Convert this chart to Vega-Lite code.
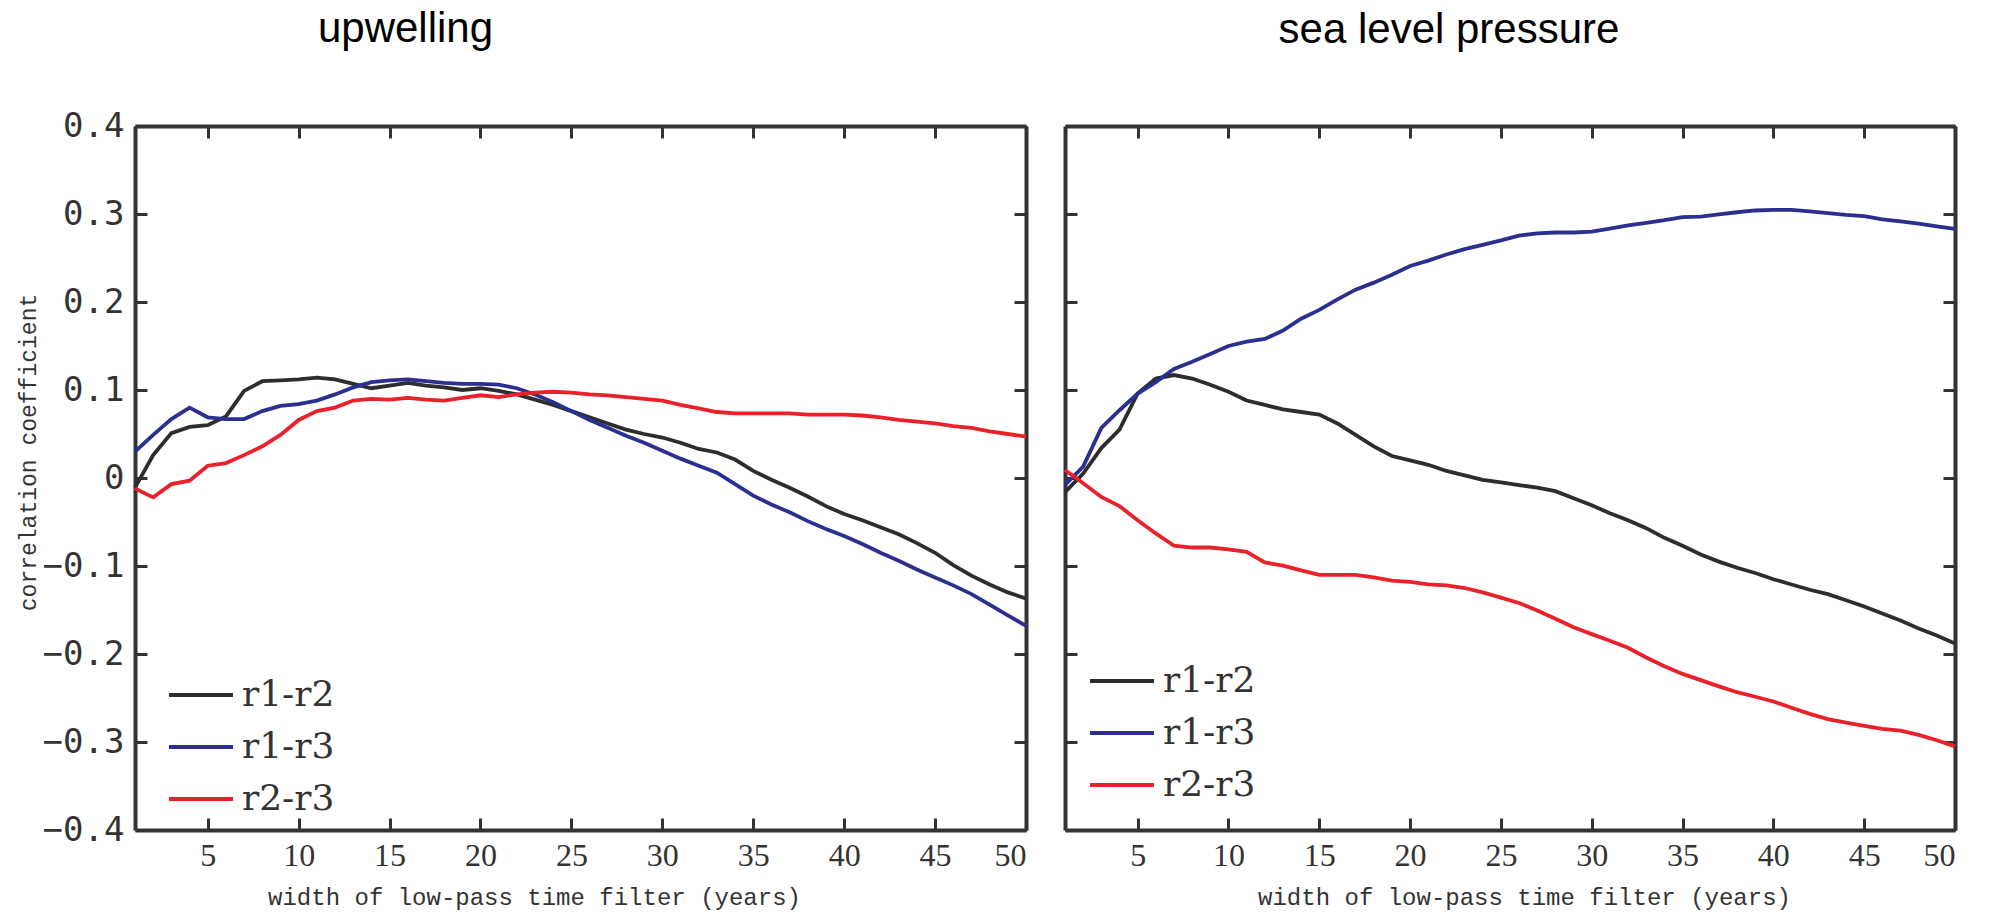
{
  "$schema": "https://vega.github.io/schema/vega-lite/v6.json",
  "background": "white",
  "padding": {"left": 17, "top": 8, "right": 5, "bottom": 5},
  "config": {
    "view": {"stroke": null},
    "font": "Liberation Sans",
    "axis": {
      "grid": false,
      "domainColor": "#333333",
      "domainWidth": 4,
      "tickColor": "#333333",
      "tickWidth": 3,
      "tickSize": -12,
      "labelColor": "#333333",
      "titleColor": "#333333",
      "titleFontWeight": "normal"
    },
    "legend": {
      "orient": "none",
      "title": null,
      "symbolType": "stroke",
      "symbolSize": 4096,
      "symbolStrokeWidth": 4,
      "labelFont": "DejaVu Serif",
      "labelFontSize": 36,
      "labelColor": "#333333",
      "labelOffset": 7,
      "rowPadding": -17,
      "padding": 0
    },
    "title": {
      "font": "Liberation Sans",
      "fontSize": 42,
      "fontWeight": "normal",
      "color": "#000000",
      "anchor": "middle",
      "frame": "group"
    }
  },
  "data": {"values": [
    {"panel":"u","pair":"r1-r2","w":1,"r":-0.011},{"panel":"u","pair":"r1-r2","w":2,"r":0.026},{"panel":"u","pair":"r1-r2","w":3,"r":0.051},{"panel":"u","pair":"r1-r2","w":4,"r":0.058},{"panel":"u","pair":"r1-r2","w":5,"r":0.060},
    {"panel":"u","pair":"r1-r2","w":6,"r":0.070},{"panel":"u","pair":"r1-r2","w":7,"r":0.099},{"panel":"u","pair":"r1-r2","w":8,"r":0.110},{"panel":"u","pair":"r1-r2","w":9,"r":0.111},{"panel":"u","pair":"r1-r2","w":10,"r":0.112},
    {"panel":"u","pair":"r1-r2","w":11,"r":0.114},{"panel":"u","pair":"r1-r2","w":12,"r":0.112},{"panel":"u","pair":"r1-r2","w":13,"r":0.107},{"panel":"u","pair":"r1-r2","w":14,"r":0.102},{"panel":"u","pair":"r1-r2","w":15,"r":0.105},
    {"panel":"u","pair":"r1-r2","w":16,"r":0.108},{"panel":"u","pair":"r1-r2","w":17,"r":0.105},{"panel":"u","pair":"r1-r2","w":18,"r":0.103},{"panel":"u","pair":"r1-r2","w":19,"r":0.100},{"panel":"u","pair":"r1-r2","w":20,"r":0.102},
    {"panel":"u","pair":"r1-r2","w":21,"r":0.099},{"panel":"u","pair":"r1-r2","w":22,"r":0.095},{"panel":"u","pair":"r1-r2","w":23,"r":0.089},{"panel":"u","pair":"r1-r2","w":24,"r":0.083},{"panel":"u","pair":"r1-r2","w":25,"r":0.076},
    {"panel":"u","pair":"r1-r2","w":26,"r":0.069},{"panel":"u","pair":"r1-r2","w":27,"r":0.062},{"panel":"u","pair":"r1-r2","w":28,"r":0.055},{"panel":"u","pair":"r1-r2","w":29,"r":0.050},{"panel":"u","pair":"r1-r2","w":30,"r":0.046},
    {"panel":"u","pair":"r1-r2","w":31,"r":0.040},{"panel":"u","pair":"r1-r2","w":32,"r":0.033},{"panel":"u","pair":"r1-r2","w":33,"r":0.029},{"panel":"u","pair":"r1-r2","w":34,"r":0.021},{"panel":"u","pair":"r1-r2","w":35,"r":0.008},
    {"panel":"u","pair":"r1-r2","w":36,"r":-0.002},{"panel":"u","pair":"r1-r2","w":37,"r":-0.011},{"panel":"u","pair":"r1-r2","w":38,"r":-0.021},{"panel":"u","pair":"r1-r2","w":39,"r":-0.032},{"panel":"u","pair":"r1-r2","w":40,"r":-0.041},
    {"panel":"u","pair":"r1-r2","w":41,"r":-0.048},{"panel":"u","pair":"r1-r2","w":42,"r":-0.056},{"panel":"u","pair":"r1-r2","w":43,"r":-0.064},{"panel":"u","pair":"r1-r2","w":44,"r":-0.074},{"panel":"u","pair":"r1-r2","w":45,"r":-0.085},
    {"panel":"u","pair":"r1-r2","w":46,"r":-0.099},{"panel":"u","pair":"r1-r2","w":47,"r":-0.111},{"panel":"u","pair":"r1-r2","w":48,"r":-0.121},{"panel":"u","pair":"r1-r2","w":49,"r":-0.130},{"panel":"u","pair":"r1-r2","w":50,"r":-0.137},

    {"panel":"u","pair":"r1-r3","w":1,"r":0.030},{"panel":"u","pair":"r1-r3","w":2,"r":0.049},{"panel":"u","pair":"r1-r3","w":3,"r":0.067},{"panel":"u","pair":"r1-r3","w":4,"r":0.080},{"panel":"u","pair":"r1-r3","w":5,"r":0.069},
    {"panel":"u","pair":"r1-r3","w":6,"r":0.067},{"panel":"u","pair":"r1-r3","w":7,"r":0.067},{"panel":"u","pair":"r1-r3","w":8,"r":0.076},{"panel":"u","pair":"r1-r3","w":9,"r":0.082},{"panel":"u","pair":"r1-r3","w":10,"r":0.084},
    {"panel":"u","pair":"r1-r3","w":11,"r":0.088},{"panel":"u","pair":"r1-r3","w":12,"r":0.095},{"panel":"u","pair":"r1-r3","w":13,"r":0.103},{"panel":"u","pair":"r1-r3","w":14,"r":0.109},{"panel":"u","pair":"r1-r3","w":15,"r":0.111},
    {"panel":"u","pair":"r1-r3","w":16,"r":0.112},{"panel":"u","pair":"r1-r3","w":17,"r":0.110},{"panel":"u","pair":"r1-r3","w":18,"r":0.108},{"panel":"u","pair":"r1-r3","w":19,"r":0.107},{"panel":"u","pair":"r1-r3","w":20,"r":0.107},
    {"panel":"u","pair":"r1-r3","w":21,"r":0.106},{"panel":"u","pair":"r1-r3","w":22,"r":0.102},{"panel":"u","pair":"r1-r3","w":23,"r":0.095},{"panel":"u","pair":"r1-r3","w":24,"r":0.086},{"panel":"u","pair":"r1-r3","w":25,"r":0.076},
    {"panel":"u","pair":"r1-r3","w":26,"r":0.066},{"panel":"u","pair":"r1-r3","w":27,"r":0.057},{"panel":"u","pair":"r1-r3","w":28,"r":0.048},{"panel":"u","pair":"r1-r3","w":29,"r":0.040},{"panel":"u","pair":"r1-r3","w":30,"r":0.031},
    {"panel":"u","pair":"r1-r3","w":31,"r":0.022},{"panel":"u","pair":"r1-r3","w":32,"r":0.014},{"panel":"u","pair":"r1-r3","w":33,"r":0.006},{"panel":"u","pair":"r1-r3","w":34,"r":-0.007},{"panel":"u","pair":"r1-r3","w":35,"r":-0.020},
    {"panel":"u","pair":"r1-r3","w":36,"r":-0.030},{"panel":"u","pair":"r1-r3","w":37,"r":-0.039},{"panel":"u","pair":"r1-r3","w":38,"r":-0.049},{"panel":"u","pair":"r1-r3","w":39,"r":-0.058},{"panel":"u","pair":"r1-r3","w":40,"r":-0.066},
    {"panel":"u","pair":"r1-r3","w":41,"r":-0.075},{"panel":"u","pair":"r1-r3","w":42,"r":-0.085},{"panel":"u","pair":"r1-r3","w":43,"r":-0.094},{"panel":"u","pair":"r1-r3","w":44,"r":-0.104},{"panel":"u","pair":"r1-r3","w":45,"r":-0.113},
    {"panel":"u","pair":"r1-r3","w":46,"r":-0.122},{"panel":"u","pair":"r1-r3","w":47,"r":-0.132},{"panel":"u","pair":"r1-r3","w":48,"r":-0.144},{"panel":"u","pair":"r1-r3","w":49,"r":-0.156},{"panel":"u","pair":"r1-r3","w":50,"r":-0.168},

    {"panel":"u","pair":"r2-r3","w":1,"r":-0.012},{"panel":"u","pair":"r2-r3","w":2,"r":-0.022},{"panel":"u","pair":"r2-r3","w":3,"r":-0.007},{"panel":"u","pair":"r2-r3","w":4,"r":-0.003},{"panel":"u","pair":"r2-r3","w":5,"r":0.014},
    {"panel":"u","pair":"r2-r3","w":6,"r":0.017},{"panel":"u","pair":"r2-r3","w":7,"r":0.026},{"panel":"u","pair":"r2-r3","w":8,"r":0.036},{"panel":"u","pair":"r2-r3","w":9,"r":0.049},{"panel":"u","pair":"r2-r3","w":10,"r":0.066},
    {"panel":"u","pair":"r2-r3","w":11,"r":0.076},{"panel":"u","pair":"r2-r3","w":12,"r":0.080},{"panel":"u","pair":"r2-r3","w":13,"r":0.088},{"panel":"u","pair":"r2-r3","w":14,"r":0.090},{"panel":"u","pair":"r2-r3","w":15,"r":0.089},
    {"panel":"u","pair":"r2-r3","w":16,"r":0.091},{"panel":"u","pair":"r2-r3","w":17,"r":0.089},{"panel":"u","pair":"r2-r3","w":18,"r":0.088},{"panel":"u","pair":"r2-r3","w":19,"r":0.091},{"panel":"u","pair":"r2-r3","w":20,"r":0.094},
    {"panel":"u","pair":"r2-r3","w":21,"r":0.092},{"panel":"u","pair":"r2-r3","w":22,"r":0.095},{"panel":"u","pair":"r2-r3","w":23,"r":0.097},{"panel":"u","pair":"r2-r3","w":24,"r":0.098},{"panel":"u","pair":"r2-r3","w":25,"r":0.097},
    {"panel":"u","pair":"r2-r3","w":26,"r":0.095},{"panel":"u","pair":"r2-r3","w":27,"r":0.094},{"panel":"u","pair":"r2-r3","w":28,"r":0.092},{"panel":"u","pair":"r2-r3","w":29,"r":0.090},{"panel":"u","pair":"r2-r3","w":30,"r":0.088},
    {"panel":"u","pair":"r2-r3","w":31,"r":0.083},{"panel":"u","pair":"r2-r3","w":32,"r":0.079},{"panel":"u","pair":"r2-r3","w":33,"r":0.075},{"panel":"u","pair":"r2-r3","w":34,"r":0.0735},{"panel":"u","pair":"r2-r3","w":35,"r":0.0735},
    {"panel":"u","pair":"r2-r3","w":36,"r":0.0735},{"panel":"u","pair":"r2-r3","w":37,"r":0.0735},{"panel":"u","pair":"r2-r3","w":38,"r":0.072},{"panel":"u","pair":"r2-r3","w":39,"r":0.072},{"panel":"u","pair":"r2-r3","w":40,"r":0.072},
    {"panel":"u","pair":"r2-r3","w":41,"r":0.071},{"panel":"u","pair":"r2-r3","w":42,"r":0.069},{"panel":"u","pair":"r2-r3","w":43,"r":0.066},{"panel":"u","pair":"r2-r3","w":44,"r":0.064},{"panel":"u","pair":"r2-r3","w":45,"r":0.062},
    {"panel":"u","pair":"r2-r3","w":46,"r":0.059},{"panel":"u","pair":"r2-r3","w":47,"r":0.057},{"panel":"u","pair":"r2-r3","w":48,"r":0.053},{"panel":"u","pair":"r2-r3","w":49,"r":0.050},{"panel":"u","pair":"r2-r3","w":50,"r":0.047},

    {"panel":"s","pair":"r1-r2","w":1,"r":-0.016},{"panel":"s","pair":"r1-r2","w":2,"r":0.005},{"panel":"s","pair":"r1-r2","w":3,"r":0.034},{"panel":"s","pair":"r1-r2","w":4,"r":0.055},{"panel":"s","pair":"r1-r2","w":5,"r":0.096},
    {"panel":"s","pair":"r1-r2","w":6,"r":0.113},{"panel":"s","pair":"r1-r2","w":7,"r":0.117},{"panel":"s","pair":"r1-r2","w":8,"r":0.113},{"panel":"s","pair":"r1-r2","w":9,"r":0.106},{"panel":"s","pair":"r1-r2","w":10,"r":0.098},
    {"panel":"s","pair":"r1-r2","w":11,"r":0.088},{"panel":"s","pair":"r1-r2","w":12,"r":0.083},{"panel":"s","pair":"r1-r2","w":13,"r":0.078},{"panel":"s","pair":"r1-r2","w":14,"r":0.075},{"panel":"s","pair":"r1-r2","w":15,"r":0.072},
    {"panel":"s","pair":"r1-r2","w":16,"r":0.062},{"panel":"s","pair":"r1-r2","w":17,"r":0.049},{"panel":"s","pair":"r1-r2","w":18,"r":0.036},{"panel":"s","pair":"r1-r2","w":19,"r":0.025},{"panel":"s","pair":"r1-r2","w":20,"r":0.020},
    {"panel":"s","pair":"r1-r2","w":21,"r":0.015},{"panel":"s","pair":"r1-r2","w":22,"r":0.008},{"panel":"s","pair":"r1-r2","w":23,"r":0.003},{"panel":"s","pair":"r1-r2","w":24,"r":-0.002},{"panel":"s","pair":"r1-r2","w":25,"r":-0.005},
    {"panel":"s","pair":"r1-r2","w":26,"r":-0.008},{"panel":"s","pair":"r1-r2","w":27,"r":-0.011},{"panel":"s","pair":"r1-r2","w":28,"r":-0.015},{"panel":"s","pair":"r1-r2","w":29,"r":-0.023},{"panel":"s","pair":"r1-r2","w":30,"r":-0.031},
    {"panel":"s","pair":"r1-r2","w":31,"r":-0.040},{"panel":"s","pair":"r1-r2","w":32,"r":-0.048},{"panel":"s","pair":"r1-r2","w":33,"r":-0.057},{"panel":"s","pair":"r1-r2","w":34,"r":-0.068},{"panel":"s","pair":"r1-r2","w":35,"r":-0.077},
    {"panel":"s","pair":"r1-r2","w":36,"r":-0.087},{"panel":"s","pair":"r1-r2","w":37,"r":-0.095},{"panel":"s","pair":"r1-r2","w":38,"r":-0.102},{"panel":"s","pair":"r1-r2","w":39,"r":-0.108},{"panel":"s","pair":"r1-r2","w":40,"r":-0.115},
    {"panel":"s","pair":"r1-r2","w":41,"r":-0.121},{"panel":"s","pair":"r1-r2","w":42,"r":-0.127},{"panel":"s","pair":"r1-r2","w":43,"r":-0.132},{"panel":"s","pair":"r1-r2","w":44,"r":-0.139},{"panel":"s","pair":"r1-r2","w":45,"r":-0.146},
    {"panel":"s","pair":"r1-r2","w":46,"r":-0.154},{"panel":"s","pair":"r1-r2","w":47,"r":-0.162},{"panel":"s","pair":"r1-r2","w":48,"r":-0.171},{"panel":"s","pair":"r1-r2","w":49,"r":-0.179},{"panel":"s","pair":"r1-r2","w":50,"r":-0.188},

    {"panel":"s","pair":"r1-r3","w":1,"r":-0.008},{"panel":"s","pair":"r1-r3","w":2,"r":0.013},{"panel":"s","pair":"r1-r3","w":3,"r":0.057},{"panel":"s","pair":"r1-r3","w":4,"r":0.077},{"panel":"s","pair":"r1-r3","w":5,"r":0.096},
    {"panel":"s","pair":"r1-r3","w":6,"r":0.109},{"panel":"s","pair":"r1-r3","w":7,"r":0.124},{"panel":"s","pair":"r1-r3","w":8,"r":0.132},{"panel":"s","pair":"r1-r3","w":9,"r":0.141},{"panel":"s","pair":"r1-r3","w":10,"r":0.150},
    {"panel":"s","pair":"r1-r3","w":11,"r":0.155},{"panel":"s","pair":"r1-r3","w":12,"r":0.158},{"panel":"s","pair":"r1-r3","w":13,"r":0.1675},{"panel":"s","pair":"r1-r3","w":14,"r":0.181},{"panel":"s","pair":"r1-r3","w":15,"r":0.191},
    {"panel":"s","pair":"r1-r3","w":16,"r":0.203},{"panel":"s","pair":"r1-r3","w":17,"r":0.214},{"panel":"s","pair":"r1-r3","w":18,"r":0.222},{"panel":"s","pair":"r1-r3","w":19,"r":0.231},{"panel":"s","pair":"r1-r3","w":20,"r":0.241},
    {"panel":"s","pair":"r1-r3","w":21,"r":0.247},{"panel":"s","pair":"r1-r3","w":22,"r":0.254},{"panel":"s","pair":"r1-r3","w":23,"r":0.260},{"panel":"s","pair":"r1-r3","w":24,"r":0.265},{"panel":"s","pair":"r1-r3","w":25,"r":0.270},
    {"panel":"s","pair":"r1-r3","w":26,"r":0.2755},{"panel":"s","pair":"r1-r3","w":27,"r":0.278},{"panel":"s","pair":"r1-r3","w":28,"r":0.279},{"panel":"s","pair":"r1-r3","w":29,"r":0.279},{"panel":"s","pair":"r1-r3","w":30,"r":0.280},
    {"panel":"s","pair":"r1-r3","w":31,"r":0.2835},{"panel":"s","pair":"r1-r3","w":32,"r":0.287},{"panel":"s","pair":"r1-r3","w":33,"r":0.290},{"panel":"s","pair":"r1-r3","w":34,"r":0.293},{"panel":"s","pair":"r1-r3","w":35,"r":0.2965},
    {"panel":"s","pair":"r1-r3","w":36,"r":0.297},{"panel":"s","pair":"r1-r3","w":37,"r":0.2995},{"panel":"s","pair":"r1-r3","w":38,"r":0.302},{"panel":"s","pair":"r1-r3","w":39,"r":0.304},{"panel":"s","pair":"r1-r3","w":40,"r":0.3047},
    {"panel":"s","pair":"r1-r3","w":41,"r":0.3047},{"panel":"s","pair":"r1-r3","w":42,"r":0.303},{"panel":"s","pair":"r1-r3","w":43,"r":0.301},{"panel":"s","pair":"r1-r3","w":44,"r":0.299},{"panel":"s","pair":"r1-r3","w":45,"r":0.2975},
    {"panel":"s","pair":"r1-r3","w":46,"r":0.294},{"panel":"s","pair":"r1-r3","w":47,"r":0.2915},{"panel":"s","pair":"r1-r3","w":48,"r":0.289},{"panel":"s","pair":"r1-r3","w":49,"r":0.286},{"panel":"s","pair":"r1-r3","w":50,"r":0.283},

    {"panel":"s","pair":"r2-r3","w":1,"r":0.009},{"panel":"s","pair":"r2-r3","w":2,"r":-0.006},{"panel":"s","pair":"r2-r3","w":3,"r":-0.0215},{"panel":"s","pair":"r2-r3","w":4,"r":-0.032},{"panel":"s","pair":"r2-r3","w":5,"r":-0.048},
    {"panel":"s","pair":"r2-r3","w":6,"r":-0.063},{"panel":"s","pair":"r2-r3","w":7,"r":-0.077},{"panel":"s","pair":"r2-r3","w":8,"r":-0.079},{"panel":"s","pair":"r2-r3","w":9,"r":-0.079},{"panel":"s","pair":"r2-r3","w":10,"r":-0.081},
    {"panel":"s","pair":"r2-r3","w":11,"r":-0.084},{"panel":"s","pair":"r2-r3","w":12,"r":-0.096},{"panel":"s","pair":"r2-r3","w":13,"r":-0.0995},{"panel":"s","pair":"r2-r3","w":14,"r":-0.105},{"panel":"s","pair":"r2-r3","w":15,"r":-0.110},
    {"panel":"s","pair":"r2-r3","w":16,"r":-0.110},{"panel":"s","pair":"r2-r3","w":17,"r":-0.110},{"panel":"s","pair":"r2-r3","w":18,"r":-0.113},{"panel":"s","pair":"r2-r3","w":19,"r":-0.1166},{"panel":"s","pair":"r2-r3","w":20,"r":-0.118},
    {"panel":"s","pair":"r2-r3","w":21,"r":-0.121},{"panel":"s","pair":"r2-r3","w":22,"r":-0.122},{"panel":"s","pair":"r2-r3","w":23,"r":-0.125},{"panel":"s","pair":"r2-r3","w":24,"r":-0.130},{"panel":"s","pair":"r2-r3","w":25,"r":-0.136},
    {"panel":"s","pair":"r2-r3","w":26,"r":-0.142},{"panel":"s","pair":"r2-r3","w":27,"r":-0.1505},{"panel":"s","pair":"r2-r3","w":28,"r":-0.160},{"panel":"s","pair":"r2-r3","w":29,"r":-0.1696},{"panel":"s","pair":"r2-r3","w":30,"r":-0.1774},
    {"panel":"s","pair":"r2-r3","w":31,"r":-0.185},{"panel":"s","pair":"r2-r3","w":32,"r":-0.193},{"panel":"s","pair":"r2-r3","w":33,"r":-0.204},{"panel":"s","pair":"r2-r3","w":34,"r":-0.214},{"panel":"s","pair":"r2-r3","w":35,"r":-0.2226},
    {"panel":"s","pair":"r2-r3","w":36,"r":-0.2297},{"panel":"s","pair":"r2-r3","w":37,"r":-0.2368},{"panel":"s","pair":"r2-r3","w":38,"r":-0.2434},{"panel":"s","pair":"r2-r3","w":39,"r":-0.2486},{"panel":"s","pair":"r2-r3","w":40,"r":-0.254},
    {"panel":"s","pair":"r2-r3","w":41,"r":-0.261},{"panel":"s","pair":"r2-r3","w":42,"r":-0.268},{"panel":"s","pair":"r2-r3","w":43,"r":-0.274},{"panel":"s","pair":"r2-r3","w":44,"r":-0.278},{"panel":"s","pair":"r2-r3","w":45,"r":-0.2816},
    {"panel":"s","pair":"r2-r3","w":46,"r":-0.285},{"panel":"s","pair":"r2-r3","w":47,"r":-0.287},{"panel":"s","pair":"r2-r3","w":48,"r":-0.292},{"panel":"s","pair":"r2-r3","w":49,"r":-0.298},{"panel":"s","pair":"r2-r3","w":50,"r":-0.305}
  ]},
  "spacing": 39,
  "bounds": "flush",
  "resolve": {"scale": {"color": "independent"}, "legend": {"color": "independent"}},
  "hconcat": [
    {
      "width": 891,
      "height": 704,
      "title": {"text": "upwelling", "dx": -175, "offset": 58},
      "transform": [{"filter": "datum.panel == 'u'"}],
      "layer": [
        {
          "mark": {"type": "line", "strokeWidth": 3.8},
          "encoding": {
            "x": {"field": "w", "type": "quantitative", "scale": {"domain": [1, 50], "nice": false, "zero": false},
              "axis": {"values": [5,10,15,20,25,30,35,40,45,50], "labelFont": "Liberation Sans Narrow", "labelFontSize": 32, "labelPadding": 22,
                "title": "width of low-pass time filter (years)", "titleFont": "Liberation Mono", "titleFontSize": 24, "titlePadding": 14, "titleX": 399}},
            "y": {"field": "r", "type": "quantitative", "scale": {"domain": [-0.4, 0.4], "nice": false, "zero": false},
              "axis": {"values": [-0.4,-0.3,-0.2,-0.1,0,0.1,0.2,0.3,0.4], "format": ".1~f", "labelFont": "DejaVu Sans Mono", "labelFontSize": 34, "labelPadding": 23,
                "title": "correlation coefficient", "titleFont": "Liberation Mono", "titleFontSize": 23, "titlePadding": 2, "titleY": 326}},
            "color": {"field": "pair", "type": "nominal", "scale": {"domain": ["r1-r2","r1-r3","r2-r3"], "range": ["#2d2d2d","#2b3090","#e8212b"]},
              "legend": {"legendX": 32, "legendY": 535}}
          }
        },
        {
          "mark": {"type": "point", "opacity": 0},
          "encoding": {
            "x": {"field": "w", "type": "quantitative", "scale": {"domain": [1, 50], "nice": false, "zero": false},
              "axis": {"orient": "top", "values": [5,10,15,20,25,30,35,40,45,50], "labels": false, "title": null}},
            "y": {"field": "r", "type": "quantitative", "scale": {"domain": [-0.4, 0.4], "nice": false, "zero": false},
              "axis": {"orient": "right", "values": [-0.4,-0.3,-0.2,-0.1,0,0.1,0.2,0.3,0.4], "labels": false, "title": null}}
          }
        }
      ],
      "resolve": {"axis": {"x": "independent", "y": "independent"}}
    },
    {
      "width": 890,
      "height": 704,
      "title": {"text": "sea level pressure", "dx": -61, "offset": 73},
      "transform": [{"filter": "datum.panel == 's'"}],
      "layer": [
        {
          "mark": {"type": "line", "strokeWidth": 3.8},
          "encoding": {
            "x": {"field": "w", "type": "quantitative", "scale": {"domain": [1, 50], "nice": false, "zero": false},
              "axis": {"values": [5,10,15,20,25,30,35,40,45,50], "labelFont": "Liberation Sans Narrow", "labelFontSize": 32, "labelPadding": 22,
                "title": "width of low-pass time filter (years)", "titleFont": "Liberation Mono", "titleFontSize": 24, "titlePadding": 14, "titleX": 459}},
            "y": {"field": "r", "type": "quantitative", "scale": {"domain": [-0.4, 0.4], "nice": false, "zero": false},
              "axis": {"values": [-0.4,-0.3,-0.2,-0.1,0,0.1,0.2,0.3,0.4], "labels": false, "title": null}},
            "color": {"field": "pair", "type": "nominal", "scale": {"domain": ["r1-r2","r1-r3","r2-r3"], "range": ["#2d2d2d","#2b3090","#e8212b"]},
              "legend": {"legendX": 23, "legendY": 521}}
          }
        },
        {
          "mark": {"type": "point", "opacity": 0},
          "encoding": {
            "x": {"field": "w", "type": "quantitative", "scale": {"domain": [1, 50], "nice": false, "zero": false},
              "axis": {"orient": "top", "values": [5,10,15,20,25,30,35,40,45,50], "labels": false, "title": null}},
            "y": {"field": "r", "type": "quantitative", "scale": {"domain": [-0.4, 0.4], "nice": false, "zero": false},
              "axis": {"orient": "right", "values": [-0.4,-0.3,-0.2,-0.1,0,0.1,0.2,0.3,0.4], "labels": false, "title": null}}
          }
        }
      ],
      "resolve": {"axis": {"x": "independent", "y": "independent"}}
    }
  ]
}
